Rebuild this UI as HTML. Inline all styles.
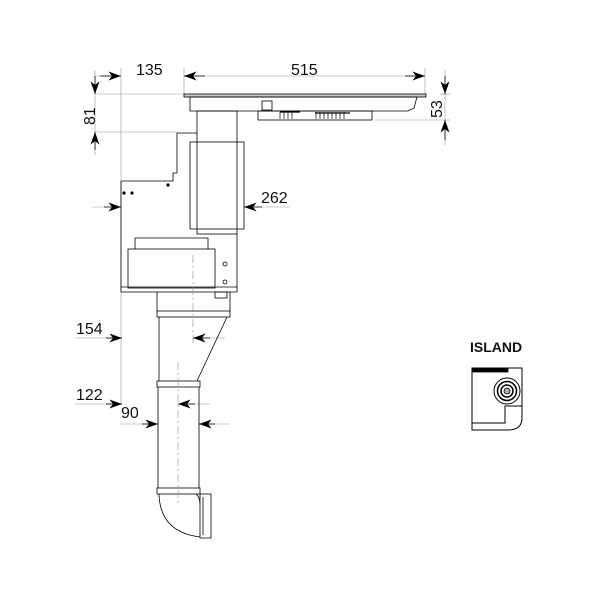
<!DOCTYPE html>
<html><head><style>body{margin:0;background:#fff}svg{display:block}text{font-family:"Liberation Sans",sans-serif;fill:#111}</style></head>
<body>
<svg width="600" height="600" viewBox="0 0 600 600" xmlns="http://www.w3.org/2000/svg">
<defs>
<marker id="a" viewBox="0 0 14 10" refX="14" refY="5" markerUnits="userSpaceOnUse" markerWidth="13" markerHeight="9" orient="auto-start-reverse"><path d="M0,0 L14,5 L0,10 L4,5 z" fill="#000"/></marker>
</defs>
<g stroke="#000" fill="none" stroke-width="0.8">
<g stroke="#999" stroke-width="0.6">
<line x1="121" y1="68" x2="121" y2="405"/>
<line x1="184" y1="68" x2="184" y2="96"/>
<line x1="425" y1="68" x2="425" y2="96"/>
<line x1="440" y1="94" x2="450" y2="94"/>
<line x1="375" y1="120" x2="450" y2="120"/>
<line x1="95" y1="94" x2="185" y2="94"/>
<line x1="95" y1="132" x2="177" y2="132"/>
<line x1="92" y1="207" x2="121" y2="207"/>
<line x1="244" y1="207" x2="290" y2="207"/>
<line x1="75" y1="338" x2="122" y2="338"/>
<line x1="193" y1="338" x2="225" y2="338"/>
<line x1="75" y1="404" x2="122" y2="404"/>
<line x1="178" y1="404" x2="210" y2="404"/>
<line x1="120" y1="424" x2="158" y2="424"/>
<line x1="199" y1="424" x2="230" y2="424"/>
<line x1="95" y1="76" x2="121" y2="76"/>
<line x1="184" y1="76" x2="425" y2="76"/>
<line x1="445" y1="70" x2="445" y2="145"/>
<line x1="95" y1="70" x2="95" y2="155"/>
</g>
<line x1="100" y1="76" x2="121" y2="76" marker-end="url(#a)"/>
<line x1="205" y1="76" x2="184" y2="76" marker-end="url(#a)"/>
<line x1="405" y1="76" x2="425" y2="76" marker-end="url(#a)"/>
<line x1="445" y1="76" x2="445" y2="94" marker-end="url(#a)"/>
<line x1="445" y1="140" x2="445" y2="120" marker-end="url(#a)"/>
<line x1="95" y1="76" x2="95" y2="94" marker-end="url(#a)"/>
<line x1="95" y1="150" x2="95" y2="132" marker-end="url(#a)"/>
<line x1="104" y1="207" x2="121" y2="207" marker-end="url(#a)"/>
<line x1="262" y1="207" x2="244" y2="207" marker-end="url(#a)"/>
<line x1="106" y1="338" x2="122" y2="338" marker-end="url(#a)"/>
<line x1="210" y1="338" x2="193" y2="338" marker-end="url(#a)"/>
<line x1="106" y1="404" x2="122" y2="404" marker-end="url(#a)"/>
<line x1="195" y1="404" x2="178" y2="404" marker-end="url(#a)"/>
<line x1="142" y1="424" x2="158" y2="424" marker-end="url(#a)"/>
<line x1="215" y1="424" x2="199" y2="424" marker-end="url(#a)"/>
<rect x="184" y="94" width="242" height="3" fill="#ccc"/>
<path d="M190,97 H417 L414,108 L408,111 H190 Z"/>
<rect x="258" y="111" width="114" height="9"/>
<g stroke-width="1.2"><line x1="280" y1="112" x2="300" y2="112"/><line x1="315" y1="113" x2="350" y2="113"/></g>
<path d="M280,112 v7 M284,112 v7 M288,112 v7 M292,112 v7 M316,112 v7 M320,112 v7 M324,112 v7 M328,112 v7 M332,112 v7 M336,112 v7 M340,112 v7 M344,112 v7" stroke-width="0.7"/>
<rect x="262" y="101" width="10" height="9"/>
<rect x="197" y="111" width="40" height="123"/>
<rect x="190" y="142" width="54" height="87"/>
<path d="M197,133 H177 V173"/>
<path d="M121,181 H173 V173 H177 M121,181 V292 H237 V234"/>
<line x1="121" y1="287" x2="237" y2="287"/>
<rect x="128" y="249" width="87" height="39"/>
<path d="M135,249 V238 H208 V249"/>
<circle cx="225" cy="264" r="2"/><circle cx="225" cy="282" r="2"/>
<circle cx="124" cy="193" r="1.2" fill="#000"/><circle cx="132" cy="193" r="1.2" fill="#000"/><circle cx="168" cy="185" r="1.2" fill="#000"/>
<rect x="215" y="292" width="12" height="6"/>
<path d="M157,292 V311 M230,292 V311"/>
<rect x="157" y="311" width="73" height="6"/>
<path d="M159,317 V381 M227,317 L197,381"/>
<rect x="157" y="381" width="43" height="6"/>
<path d="M158,387 V488 M199,387 V488"/>
<rect x="157" y="488" width="43" height="6"/>
<path d="M159,494 Q160,532 200,537"/>
<path d="M196,494 Q200,497 200,505"/>
<rect x="200" y="494" width="11" height="44"/>
<line x1="203" y1="497" x2="203" y2="535"/>
<g stroke="#888" stroke-dasharray="8,3,2,3" stroke-width="0.6">
<line x1="193" y1="255" x2="193" y2="345"/>
<line x1="178" y1="362" x2="178" y2="505"/>
</g>
<path d="M472,368 H522 V418 Q522,430 508,430 H472 Z" stroke-width="1"/>
<rect x="472" y="368" width="36" height="4" fill="#000"/>
<path d="M472,423 H505 V406 H522" stroke-width="1"/>
<circle cx="507" cy="391" r="13" stroke-width="1"/>
<circle cx="507" cy="391" r="9.5" stroke-width="1.5"/>
<circle cx="507" cy="391" r="6" stroke-width="1.5"/>
<circle cx="507" cy="391" r="3" fill="#aaa"/>
</g>
<g font-size="16">
<text x="136" y="75">135</text>
<text x="291" y="75">515</text>
<text x="261" y="203">262</text>
<text x="76" y="334">154</text>
<text x="76" y="400">122</text>
<text x="121" y="418">90</text>
<text transform="translate(95,125) rotate(-90)">81</text>
<text transform="translate(442,118) rotate(-90)">53</text>
</g>
<text x="470" y="352" font-size="14" font-weight="bold">ISLAND</text>
</svg>
</body></html>
